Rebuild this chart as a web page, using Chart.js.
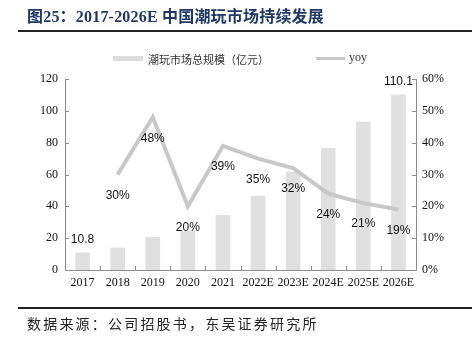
<!DOCTYPE html>
<html>
<head>
<meta charset="utf-8">
<script src="https://cdn.jsdelivr.net/npm/chart.js@4"></script>
<style>
  body { margin: 0; background: #fff; }
  #wrap { position: relative; width: 474px; height: 338px; overflow: hidden; }
  #chart { position: absolute; left: 0; top: 0; }
  .txt { position: absolute; white-space: nowrap; }
  #title { left: 27px; top: 3px; font: bold 16px "Liberation Serif", "Noto Sans CJK SC", serif; color: #1f3864; letter-spacing: 0.2px; }
  .rule { position: absolute; left: 18px; width: 454px; height: 2px; background: #222; }
  #foot { left: 27px; top: 313px; font: 14px "Noto Sans CJK SC", sans-serif; color: #222; letter-spacing: 2.2px; }
  .leg { font: 11px "Noto Sans CJK SC", sans-serif; color: #333; top: 51px; }
</style>
</head>
<body>
<div id="wrap">
  <canvas id="chart" width="474" height="338"></canvas>
  <div id="title" class="txt">图25：2017-2026E 中国潮玩市场持续发展</div>
  <div class="rule" style="top:30px"></div>
  <div style="position:absolute;left:113px;top:56px;width:30px;height:5px;background:#dcdcdc"></div>
  <div class="txt leg" style="left:148px">潮玩市场总规模（亿元）</div>
  <div style="position:absolute;left:316px;top:57px;width:29px;height:3px;background:#c8c8c8"></div>
  <div class="txt leg" style="left:349px;font-family:'Liberation Serif',serif;font-size:12px;top:50px">yoy</div>
  <div class="rule" style="top:307px"></div>
  <div id="foot" class="txt">数据来源：公司招股书，东吴证券研究所</div>
</div>
<script>
// categories and values
const years = ['2017', '2018', '2019', '2020', '2021', '2022E', '2023E', '2024E', '2025E', '2026E'];
const marketSize = [10.8, 13.8, 20.6, 24.6, 34.4, 46.5, 61.5, 76.5, 93.0, 110.1];
const yoy = [null, 30, 48, 20, 39, 35, 32, 24, 21, 19];
const leftTicks = [0, 20, 40, 60, 80, 100, 120];
const rightTicks = [0, 10, 20, 30, 40, 50, 60];

const axisColor = '#8c8c8c';
const serif = 'Liberation Serif';

// inward tick marks and value labels
const decor = {
    id: 'decor',
    afterDatasetsDraw(chart) {
        const ctx = chart.ctx;
        const x = chart.scales.x, y = chart.scales.y, y1 = chart.scales.y1;
        const area = chart.chartArea;
        ctx.save();
        ctx.strokeStyle = axisColor;
        ctx.lineWidth = 1;
        ctx.beginPath();
        y.ticks.forEach((t, i) => {
            const py = Math.round(y.getPixelForTick(i)) + 0.5;
            ctx.moveTo(area.left, py); ctx.lineTo(area.left + 4, py);
        });
        y1.ticks.forEach((t, i) => {
            const py = Math.round(y1.getPixelForTick(i)) + 0.5;
            ctx.moveTo(area.right, py); ctx.lineTo(area.right - 4, py);
        });
        const step = (area.right - area.left) / years.length;
        for (let i = 1; i < years.length; i++) {
            const px = Math.round(area.left + step * i) + 0.5;
            ctx.moveTo(px, area.bottom); ctx.lineTo(px, area.bottom - 4);
        }
        ctx.stroke();

        ctx.fillStyle = '#111';
        ctx.font = '12px "Liberation Sans", Arial, sans-serif';
        ctx.textAlign = 'center';
        ctx.textBaseline = 'middle';
        // bar labels only for first and last
        [0, years.length - 1].forEach(i => {
            const px = x.getPixelForValue(i);
            const py = y.getPixelForValue(marketSize[i]);
            ctx.fillText(String(marketSize[i]), px, py - 13);
        });
        yoy.forEach((v, i) => {
            if (v === null) return;
            const px = x.getPixelForValue(i);
            const py = y1.getPixelForValue(v);
            ctx.fillText(v + '%', px, py + 21);
        });
        ctx.restore();
    }
};

new Chart(document.getElementById('chart'), {
    type: 'bar',
    data: {
        labels: years,
        datasets: [{
            type: 'line',
            label: 'yoy',
            data: yoy,
            yAxisID: 'y1',
            borderColor: '#c8c8c8',
            borderWidth: 4,
            pointRadius: 0,
            tension: 0,
            order: 0
        }, {
            label: '潮玩市场总规模（亿元）',
            data: marketSize,
            yAxisID: 'y',
            backgroundColor: '#e0e0e0',
            barThickness: 14,
            order: 1
        }]
    },
    options: {
        responsive: false,
        animation: false,
        layout: { padding: { top: 79, left: 0, right: 0, bottom: 0 } },
        plugins: { legend: { display: false }, tooltip: { enabled: false } },
        scales: {
            x: {
                grid: { display: false, drawTicks: false },
                border: { color: axisColor },
                ticks: { color: '#111', padding: 6, font: { family: serif, size: 12 }, maxRotation: 0, autoSkip: false },
                afterFit(s) { s.height = 68; }
            },
            y: {
                position: 'left',
                min: 0, max: 120,
                afterBuildTicks(s) { s.ticks = leftTicks.map(v => ({ value: v })); },
                grid: { display: false, drawTicks: false },
                border: { color: axisColor },
                ticks: { color: '#111', padding: 7, font: { family: serif, size: 12 } },
                afterFit(s) { s.width = 65; }
            },
            y1: {
                position: 'right',
                min: 0, max: 60,
                afterBuildTicks(s) { s.ticks = rightTicks.map(v => ({ value: v })); },
                grid: { display: false, drawTicks: false },
                border: { color: axisColor },
                ticks: { color: '#111', padding: 6, font: { family: serif, size: 12 }, callback: v => v + '%' },
                afterFit(s) { s.width = 58; }
            }
        }
    },
    plugins: [decor]
});
</script>
</body>
</html>
